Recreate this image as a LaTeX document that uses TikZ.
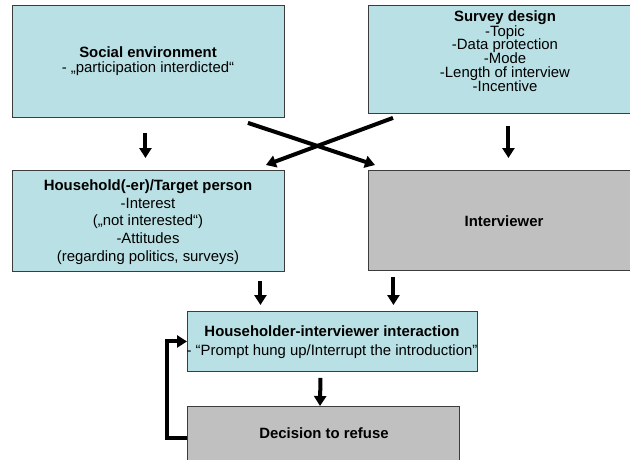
\documentclass[tikz,border=0pt]{standalone}
\usepackage{fontspec}
\setmainfont{Liberation Sans}
\usetikzlibrary{arrows.meta,calc}
\definecolor{boxblue}{RGB}{185,224,228}
\definecolor{boxgray}{RGB}{192,192,192}
\definecolor{edge}{RGB}{60,60,60}
\begin{document}
\begin{tikzpicture}[x=1pt,y=-1pt,
  bluebox/.style={draw=edge,line width=0.9pt,fill=boxblue},
  graybox/.style={draw=edge,line width=0.9pt,fill=boxgray},
  txt/.style={align=center,inner sep=0pt,font=\fontsize{14.9}{17.4}\selectfont},
  arr/.style={line width=4pt,-{Triangle[width=12pt,length=10pt]}}]
\useasboundingbox (0,0) rectangle (630,459);
% boxes
\node[bluebox,minimum width=272pt,minimum height=112pt,anchor=north west] (social) at (12,5) {};
\node[bluebox,minimum width=274pt,minimum height=108pt,anchor=north west] (survey) at (368,5) {};
\node[bluebox,minimum width=272pt,minimum height=101pt,anchor=north west] (household) at (12,170) {};
\node[graybox,minimum width=274pt,minimum height=100pt,anchor=north west] (interviewer) at (368,170) {};
\node[bluebox,minimum width=290pt,minimum height=60pt,anchor=north west] (interaction) at (187,311) {};
\node[graybox,minimum width=272pt,minimum height=64pt,anchor=north west] (decision) at (187,406) {};
% texts
\node[txt,font=\fontsize{14.9}{15.6}\selectfont] (socialtxt) at (148,61) {\textbf{Social environment}\\- „participation interdicted“};
\node[txt,font=\fontsize{14.9}{13.9}\selectfont] (surveytxt) at (505,51) {\textbf{Survey design}\\-Topic\\-Data protection\\-Mode\\-Length of interview\\-Incentive};
\node[txt,font=\fontsize{14.9}{17.6}\selectfont] (householdtxt) at (148,222) {\textbf{Household(-er)/Target person}\\-Interest\\(„not interested“)\\-Attitudes\\(regarding politics, surveys)};
\node[txt] (interviewertxt) at (504,221) {\textbf{Interviewer}};
\node[txt,font=\fontsize{14.9}{19}\selectfont] (interactiontxt) at (332,342) {\textbf{Householder-interviewer interaction}\\- “Prompt hung up/Interrupt the introduction”};
\node[txt] (decisiontxt) at (324,433) {\textbf{Decision to refuse}};
% vertical arrows
\draw[arr] ($(social.south)+(-3,15)$) -- ($(household.north)+(-3,-12)$);
\draw[arr] ($(survey.south)+(3,12)$) -- ($(interviewer.north)+(3,-12)$);
\draw[arr] ($(household.south)+(112,9)$) -- ($(interaction.north)+(-72,-6)$);
\draw[arr] ($(interviewer.south)+(-112,6)$) -- ($(interaction.north)+(61,-6)$);
\draw[arr] ($(interaction.south)+(-12,6)$) -- (decision.north -| 320,0);
% crossing arrows
\draw[arr] ($(social.south east)+(-37,5)$) -- ($(interviewer.north west)+(7,-5)$);
\draw[arr] ($(survey.south west)+(25,4)$) -- ($(household.north east)+(-19,-5)$);
% feedback loop
\coordinate (fb) at (167,0);
\draw[arr] (decision.west) -| (fb |- interaction.west) -- (interaction.west);
\end{tikzpicture}
\end{document}
